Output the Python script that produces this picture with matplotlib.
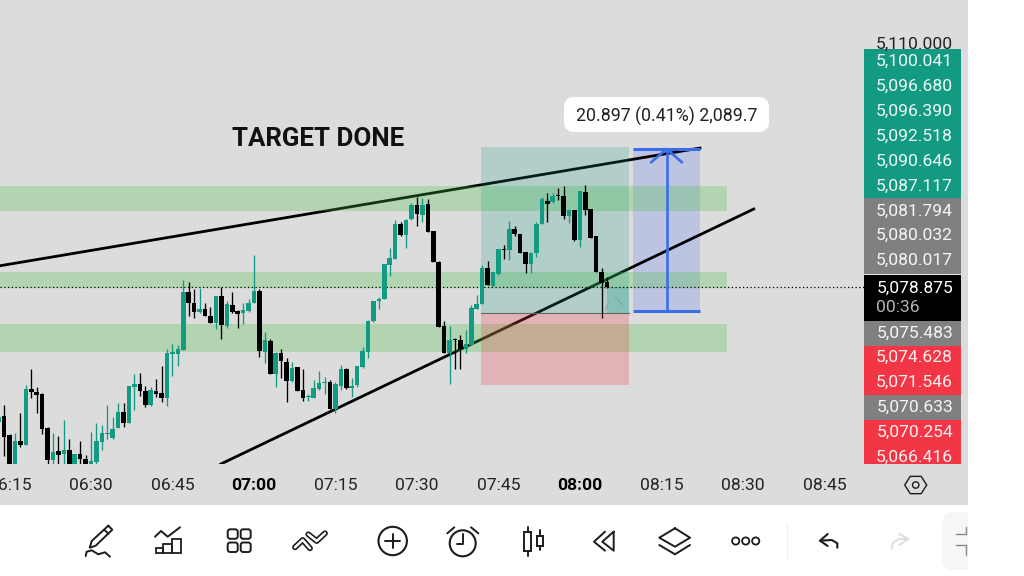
import matplotlib
matplotlib.use("Agg")
import matplotlib.pyplot as plt
from matplotlib.patches import Rectangle, FancyBboxPatch, Circle
import numpy as np

plt.rcParams['font.family'] = ['Roboto', 'DejaVu Sans']

# one minute candles, minutes counted from 07:00
first_minute = -47
opens = [5061.55, 5062.28, 5059.79, 5055.8, 5059.10, 5058.54, 5065.76, 5065.33, 5065.12, 5060.69,
         5056.60, 5057.77, 5057.38, 5057.89, 5055.7, 5057.33, 5056.69, 5055.9, 5056.35, 5058.97,
         5060.00, 5059.40, 5060.73, 5062.75, 5061.42, 5066.07, 5066.37, 5065.51, 5063.66, 5065.51,
         5065.21, 5064.65, 5070.32, 5070.28, 5070.84, 5078.24, 5076.82, 5075.74, 5076.04, 5075.18,
         5074.24, 5077.76, 5073.89, 5076.60, 5075.87, 5075.53, 5075.83, 5076.82, 5078.45, 5070.58,
         5071.96, 5067.70, 5070.45, 5069.25, 5066.75, 5068.56, 5065.64, 5064.73, 5064.65, 5065.72,
         5066.50, 5066.71, 5063.14, 5066.17, 5068.36, 5065.87, 5066.30, 5068.66, 5070.56, 5074.56,
         5077.09, 5077.40, 5081.78, 5082.56, 5087.07, 5085.61, 5087.67, 5089.48, 5088.28, 5089.61,
         5086.17, 5082.13, 5073.91, 5070.38, 5072.19, 5072.06, 5070.99, 5071.50, 5076.15, 5076.71,
         5081.40, 5079.12, 5080.62, 5083.89, 5083.67, 5086.43, 5085.74, 5083.42, 5081.91, 5083.37,
         5087.07, 5090.00, 5089.95, 5090.77, 5090.69, 5088.15, 5088.88, 5085.01, 5091.20, 5088.96,
         5085.48, 5080.88, 5079.55]
highs = [5062.40, 5063.70, 5059.96, 5060.13, 5062.63, 5066.28, 5068.35, 5065.98, 5065.21, 5060.90,
         5060.04, 5059.74, 5061.76, 5059.27, 5057.38, 5059.10, 5057.25, 5060.17, 5061.42, 5061.12,
         5063.70, 5062.11, 5063.92, 5063.92, 5066.20, 5067.70, 5067.87, 5066.15, 5065.98, 5067.01,
         5068.78, 5070.93, 5071.57, 5071.44, 5079.83, 5079.61, 5078.67, 5078.84, 5076.82, 5076.39,
         5077.76, 5078.88, 5077.16, 5078.32, 5075.96, 5076.82, 5077.33, 5083.05, 5078.62, 5073.12,
         5072.17, 5070.58, 5070.93, 5069.72, 5069.29, 5068.65, 5068.35, 5065.12, 5066.93, 5068.13,
         5067.36, 5066.93, 5066.71, 5068.88, 5068.45, 5067.16, 5068.79, 5071.24, 5074.69, 5077.18,
         5077.70, 5081.91, 5083.93, 5087.59, 5087.37, 5087.67, 5089.74, 5090.60, 5090.38, 5090.30,
         5086.21, 5082.34, 5074.60, 5073.91, 5072.32, 5072.75, 5073.40, 5076.62, 5077.91, 5081.78,
         5082.34, 5080.92, 5083.85, 5084.36, 5087.50, 5086.81, 5085.78, 5083.42, 5083.42, 5087.37,
         5090.51, 5091.12, 5091.03, 5091.67, 5091.98, 5089.01, 5088.88, 5091.37, 5092.10, 5089.01,
         5085.52, 5081.35, 5080.19]
lows = [5061.20, 5057.12, 5055.2, 5055.4, 5058.32, 5058.54, 5064.56, 5062.71, 5059.92, 5055.6,
        5055.8, 5055.9, 5055.9, 5055.5, 5055.5, 5055.8, 5055.6, 5055.6, 5055.9, 5057.89,
        5059.27, 5059.27, 5060.69, 5060.82, 5061.34, 5063.06, 5064.86, 5063.40, 5063.61, 5064.78,
        5064.13, 5063.61, 5067.49, 5068.73, 5070.80, 5075.23, 5074.93, 5075.61, 5075.18, 5074.32,
        5073.55, 5072.26, 5073.68, 5075.61, 5073.59, 5074.15, 5075.74, 5076.82, 5069.85, 5069.08,
        5067.70, 5066.07, 5067.14, 5064.04, 5066.71, 5065.55, 5064.26, 5064.26, 5064.56, 5065.64,
        5065.12, 5063.14, 5062.63, 5065.65, 5065.83, 5064.79, 5066.08, 5068.45, 5069.74, 5074.47,
        5076.06, 5077.35, 5080.36, 5082.51, 5085.57, 5084.02, 5087.59, 5086.86, 5087.37, 5086.00,
        5082.13, 5073.74, 5070.38, 5066.43, 5068.36, 5068.36, 5070.38, 5071.46, 5076.15, 5076.71,
        5079.20, 5079.07, 5080.45, 5082.51, 5082.43, 5085.52, 5083.37, 5080.79, 5080.79, 5082.86,
        5087.07, 5087.37, 5089.74, 5090.17, 5087.76, 5087.16, 5084.92, 5084.15, 5088.28, 5085.31,
        5080.84, 5074.99, 5078.77]
closes = [5062.19, 5059.61, 5055.6, 5059.10, 5058.54, 5065.72, 5065.42, 5065.03, 5060.65, 5056.60,
          5057.59, 5057.29, 5057.89, 5055.8, 5057.38, 5056.69, 5055.9, 5056.47, 5059.01, 5060.04,
          5060.09, 5060.60, 5062.75, 5061.42, 5066.15, 5066.37, 5065.55, 5063.70, 5065.64, 5065.16,
          5064.65, 5070.45, 5070.58, 5070.93, 5078.32, 5076.90, 5075.66, 5076.04, 5075.18, 5074.32,
          5077.76, 5074.07, 5076.73, 5075.74, 5075.49, 5075.96, 5076.86, 5078.45, 5070.62, 5072.09,
          5067.70, 5070.45, 5069.42, 5066.84, 5068.52, 5065.55, 5064.60, 5064.86, 5065.85, 5066.54,
          5066.67, 5063.14, 5066.45, 5068.32, 5065.87, 5066.17, 5068.75, 5070.69, 5074.60, 5077.09,
          5077.35, 5081.87, 5082.64, 5087.07, 5085.61, 5087.59, 5089.57, 5088.36, 5089.48, 5086.04,
          5082.17, 5073.74, 5070.38, 5072.10, 5072.06, 5070.90, 5071.55, 5076.23, 5076.75, 5081.44,
          5079.20, 5080.92, 5083.80, 5083.67, 5086.43, 5085.78, 5083.37, 5081.95, 5083.37, 5087.07,
          5090.30, 5089.70, 5090.73, 5090.64, 5088.15, 5088.88, 5085.01, 5091.37, 5088.88, 5085.31,
          5080.84, 5079.50, 5078.875]

current_price = 5078.875
zones = [(5088.74, 5091.97), (5078.81, 5080.875), (5070.55, 5074.16)]
zone_end = 87.1
upper_line_t = [-47, 82.1]
upper_line_p = [5081.65, 5096.87]
lower_line_t = [-6.1, 92.0]
lower_line_p = [5056.1, 5089.0]
pos_t = (41.8, 69.0)
pos_target, pos_entry, pos_stop = 5097.0, 5075.55, 5066.3
measure_t = (69.8, 82.1)
measure_low, measure_high = 5075.84, 5096.75

tick_minutes = [-45, -30, -15, 0, 15, 30, 45, 60, 75, 90, 105]
tick_labels = ['06:15', '06:30', '06:45', '07:00', '07:15', '07:30', '07:45', '08:00', '08:15', '08:30', '08:45']

upper_labels = ['5,100.041', '5,096.680', '5,096.390', '5,092.518', '5,090.646', '5,087.117',
                '5,081.794', '5,080.032', '5,080.017']
upper_kinds = ['g', 'g', 'g', 'g', 'g', 'g', 'n', 'n', 'n']
lower_labels = ['5,075.483', '5,074.628', '5,071.546', '5,070.633', '5,070.254', '5,066.416']
lower_kinds = ['n', 'r', 'r', 'n', 'r', 'r']

GREEN = '#129b82'
RED = '#f23645'
GREY = '#808080'
BG = '#dcdcdc'
BLUE = '#3a6ee8'
ICON = '#1c1c1c'
KIND = {'g': GREEN, 'n': GREY, 'r': RED}

fig = plt.figure(figsize=(10.24, 5.76), dpi=100)
fig.patch.set_facecolor('white')

# pixel axes for the app chrome
ui = fig.add_axes([0, 0, 1, 1], zorder=0)
ui.set_xlim(0, 1024)
ui.set_ylim(576, 0)
ui.axis('off')
ui.add_patch(Rectangle((0, 0), 968, 505, fc=BG, ec='none'))

# chart axes
ax = fig.add_axes([0, 1 - 464 / 576, 864 / 1024, 464 / 576], zorder=1)
ax.patch.set_alpha(0)
ax.set_xlim(-46.75, 112.3)
ax.set_ylim(5056.1, 5115.97)
for s in ax.spines.values():
    s.set_visible(False)
ax.set_yticks([])
ax.set_xticks(tick_minutes)
ax.set_xticklabels(tick_labels, fontsize=12.6, color='#222222')
ax.tick_params(axis='x', length=0, pad=10)
for lab in ax.get_xticklabels():
    if lab.get_text() in ('07:00', '08:00'):
        lab.set_fontweight('bold')
        lab.set_color('#000000')

# measure box under the lines
ax.fill_between(measure_t, measure_low, measure_high, color='#6a86f0', alpha=0.27, lw=0, zorder=0.5)

ax.plot(upper_line_t, upper_line_p, color='black', lw=2.0, zorder=1)
ax.plot(lower_line_t, lower_line_p, color='black', lw=2.0, zorder=1)

for lo, hi in zones:
    ax.fill_between([-47, zone_end], lo, hi, color='#49c040', alpha=0.28, lw=0, zorder=2)

# long position
ax.fill_between(pos_t, pos_entry, pos_target, color='#089981', alpha=0.2, lw=0, zorder=2)
ax.fill_between(pos_t, pos_stop, pos_entry, color='#f23645', alpha=0.25, lw=0, zorder=2)
ax.fill_between([65, pos_t[1]], pos_entry, current_price, color='#089981', alpha=0.25, lw=0, zorder=2)
ax.plot(pos_t, [pos_entry, pos_entry], color='#666666', lw=0.8, zorder=2.5)

ax.axhline(current_price, color='black', lw=0.9, ls=(0, (1, 2)), zorder=2.6)

# candles
minutes = np.arange(first_minute, first_minute + len(opens))
o = np.array(opens)
c = np.array(closes)
colors = [GREEN if cl >= op else 'black' for op, cl in zip(o, c)]
ax.vlines(minutes, lows, highs, colors=colors, lw=0.95, zorder=3)
ax.bar(minutes, np.maximum(np.abs(c - o), 0.15), bottom=np.minimum(o, c), width=0.84,
       color=colors, lw=0, zorder=3.1)

# measure arrow
ax.plot(measure_t, [measure_low, measure_low], color=BLUE, lw=2.2, zorder=4, solid_capstyle='butt')
ax.plot(measure_t, [measure_high, measure_high], color=BLUE, lw=2.2, zorder=4, solid_capstyle='butt')
mid = sum(measure_t) / 2
ax.plot([mid, mid], [measure_low, measure_high], color=BLUE, lw=1.9, zorder=4)
ax.plot([mid - 2.8, mid, mid + 2.8], [measure_high - 1.7, measure_high, measure_high - 1.7],
        color=BLUE, lw=1.9, zorder=4)

# faint cursor marks next to the last candle
ax.plot([66.6, 67.8], [5077.6, 5076.6], color='#8a9a98', lw=0.6, zorder=3)
ax.plot([64.7, 65.2], [5075.9, 5076.9], color='#8a9a98', lw=0.6, zorder=3)

ui.text(318.5, 139, 'TARGET DONE', fontsize=18.6, fontweight='bold', color='#111111', ha='center', va='center')

# measure pill
ui.add_patch(FancyBboxPatch((569, 102), 195, 25, boxstyle='round,pad=0,rounding_size=5',
                            fc='white', ec='white', lw=10 * 0.72, joinstyle='round'))
ui.text(667, 116.5, '20.897 (0.41%) 2,089.7', fontsize=12.8, color='#222222', ha='center', va='center')

# price scale
ui.text(953, 44, '5,110.000', fontsize=12.6, color='#222222', ha='right', va='center')
for i, (lab, kind) in enumerate(zip(upper_labels, upper_kinds)):
    top = 49 + i * 24.9
    ui.add_patch(Rectangle((864, top), 97, 25.4, fc=KIND[kind], ec='none'))
    ui.text(953, top + 12.5, lab, fontsize=12.6, color='white', ha='right', va='center', alpha=0.93)
ui.add_patch(Rectangle((864, 274.5), 97, 46.5, fc='black', ec='none'))
ui.text(953, 288.5, '5,078.875', fontsize=12.6, color='white', ha='right', va='center')
ui.text(876, 307.5, '00:36', fontsize=12.6, color='#b5b5b5', ha='left', va='center')
for i, (lab, kind) in enumerate(zip(lower_labels, lower_kinds)):
    top = 321 + i * 24.8
    ui.add_patch(Rectangle((864, top), 97, min(25, 464 - top), fc=KIND[kind], ec='none'))
    ui.text(953, top + 12, lab, fontsize=12.6, color='white', ha='right', va='center', alpha=0.93)


def line(xs, ys, color=ICON, lw=1.4):
    ui.plot(xs, ys, color=color, lw=lw, solid_capstyle='round', solid_joinstyle='round')


# settings hexagon
t = np.radians(np.arange(0, 361, 60))
line(915.7 + 11 * np.cos(t), 485 + 10 * np.sin(t), lw=1.0)
ui.add_patch(Circle((915.7, 485), 3.2, fc='none', ec=ICON, lw=1.0))

# pencil
line([108.3, 112.3, 95.7, 89.7, 91.7, 108.3], [525.7, 529.7, 545.7, 547.7, 541, 525.7])
line([104.3, 108.3], [529.7, 533.7])
line([85.7, 86.7, 91.7, 98.3, 105, 110], [556, 551.7, 550.3, 554.3, 552.3, 556.7])
# chart
for bx, bw, top in [(156, 7.3, 547.7), (163.3, 8.4, 544.3), (171.7, 9, 539)]:
    ui.add_patch(Rectangle((bx, top), bw, 552.7 - top, fc='none', ec=ICON, lw=1.3))
line([155, 161, 167.7, 180], [536.7, 531, 536.7, 527.3])
# grid
for gx in (227.7, 240.7):
    for gy in (529.3, 542.5):
        ui.add_patch(FancyBboxPatch((gx + 2.5, gy + 2.5), 5, 4.5, boxstyle='round,pad=2.5,rounding_size=2.5',
                                    fc='none', ec=ICON, lw=1.4))
# double ticks, dark stroke with a white core
for xs, ys in [([295, 302.7, 310], [547.3, 540, 548.3]), ([308.3, 316.7, 325], [534.3, 541, 533.3])]:
    line(xs, ys, lw=4.2)
    line(xs, ys, color='white', lw=1.8)
# plus circle
ui.add_patch(Circle((392.7, 541), 14.2, fc='none', ec=ICON, lw=1.5))
line([385.4, 400], [541, 541])
line([392.7, 392.7], [533.7, 548.3])
# alarm
ui.add_patch(Circle((462.7, 543.3), 13, fc='none', ec=ICON, lw=1.5))
line([462.7, 462.7, 457.3], [534.3, 544.3, 544.3])
line([447.3, 454.3], [533.3, 527.3])
line([478.3, 471], [533.3, 527.3])
# candles
ui.add_patch(Rectangle((524.3, 532.3), 6.7, 18.4, fc='none', ec=ICON, lw=1.4))
line([527.7, 527.7], [526.7, 532.3])
line([527.7, 527.7], [550.7, 555.7])
ui.add_patch(Rectangle((536.7, 535.7), 6.6, 10, fc='none', ec=ICON, lw=1.4))
line([540, 540], [530, 535.7])
line([540, 540], [545.7, 550])
# rewind
line([605, 594, 605], [531.7, 541.7, 550.7])
line([613.7, 602.3, 613.7, 613.7], [531.7, 541.7, 550.7, 531.7])
# layers
line([675, 690, 675, 659.3, 675], [528.3, 537.7, 546.7, 537.7, 528.3])
line([659.3, 675, 690], [545, 554.3, 545])
# dots
for dx in (735.7, 745.7, 755.7):
    ui.add_patch(Circle((dx, 541), 3.6, fc='none', ec=ICON, lw=1.3))
# divider
line([787.3, 787.3], [523, 558], color='#f0f0f0', lw=1.0)
# undo / redo
line([827.7, 820, 827.7], [534, 540.7, 546], lw=1.5)
line([820, 831.7, 837.3, 837.3], [540.7, 540, 543.3, 547.7], lw=1.5)
line([899.3, 908.3, 899.3], [534, 539, 545], color='#dfdfdf', lw=1.5)
line([908.3, 898.3, 892.7, 891.7], [539, 539, 543.3, 549], color='#dfdfdf', lw=1.5)
# side tab
ui.add_patch(FancyBboxPatch((942, 512), 40, 58, boxstyle='round,pad=0,rounding_size=12',
                            fc='#f6f6f6', ec='none'))
ui.add_patch(Rectangle((968, 505), 56, 71, fc='white', ec='none', zorder=3))
line([966, 966, 956], [526.7, 534, 534], color='#888888', lw=1.0)
line([956, 966, 966], [545, 545, 555], color='#888888', lw=1.0)

fig.savefig('out.png', dpi=100)
